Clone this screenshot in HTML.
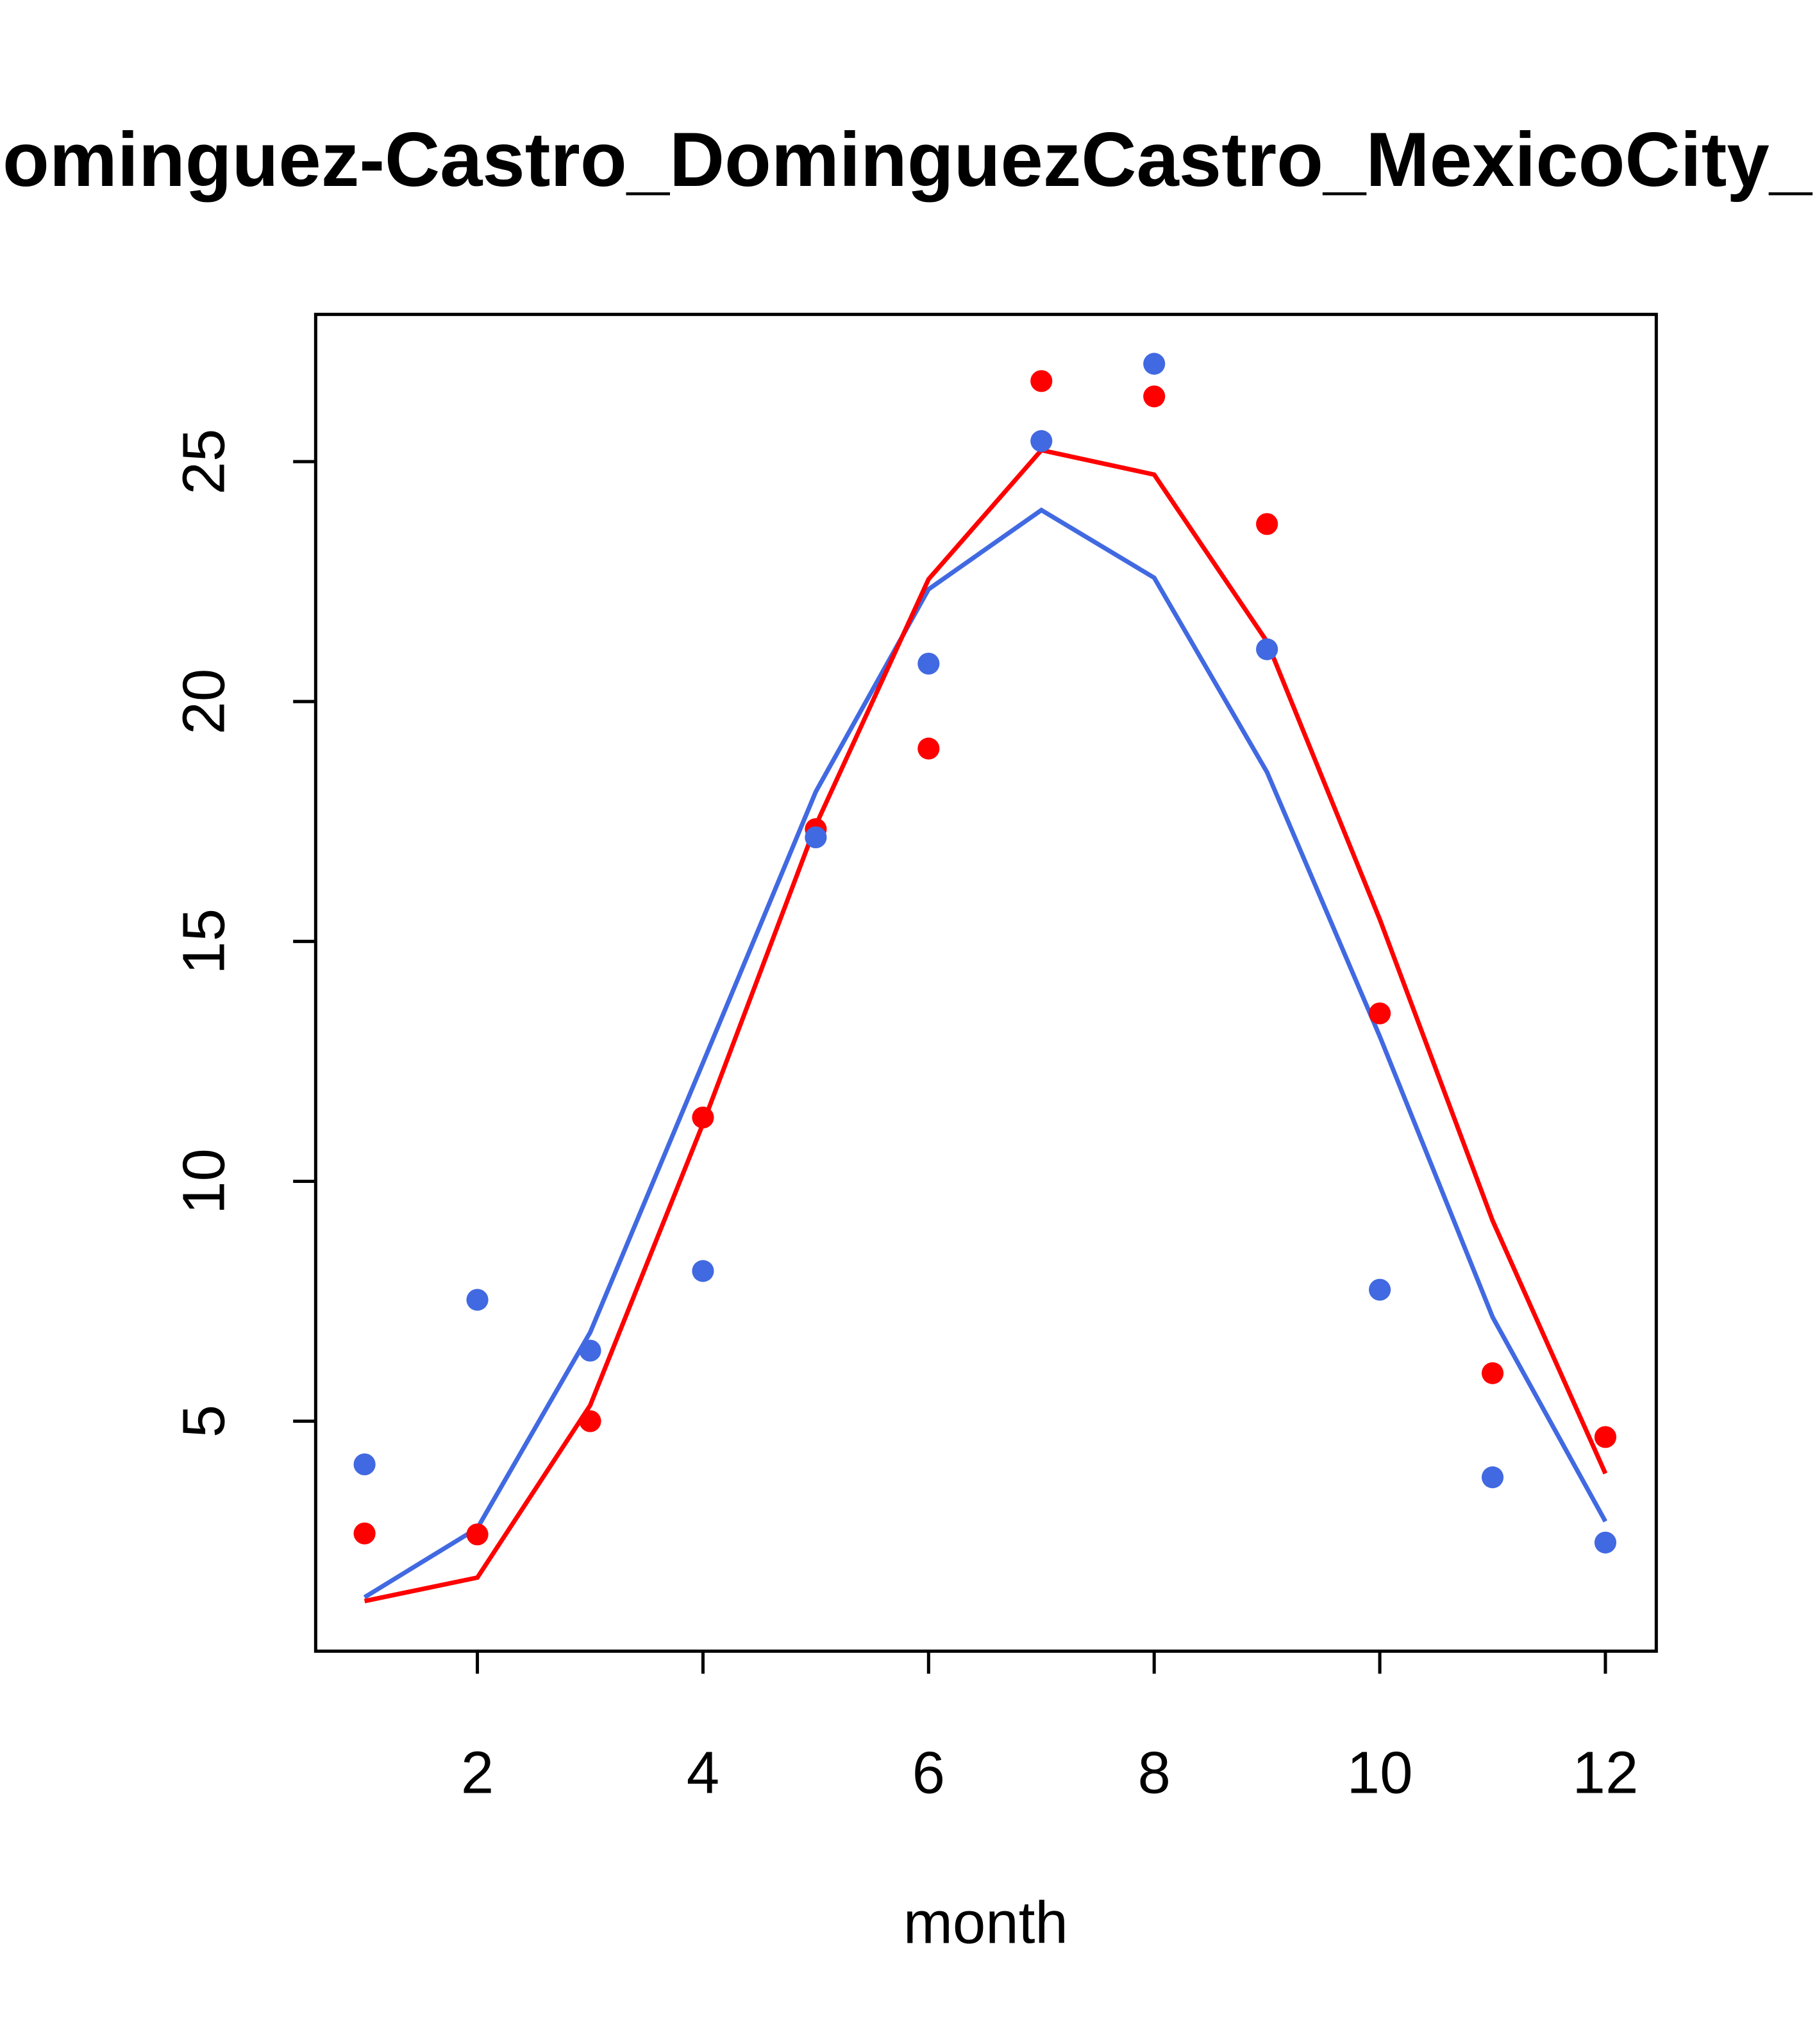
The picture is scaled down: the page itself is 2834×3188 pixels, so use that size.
<!DOCTYPE html>
<html><head><meta charset="utf-8"><style>
html,body{margin:0;padding:0;background:#fff;}
svg{display:block;font-family:"Liberation Sans",sans-serif;}
</style></head><body>
<svg id="chart" width="2834" height="3188" viewBox="0 0 2834 3188">
<rect width="2834" height="3188" fill="#fff"/>
<text x="4" y="290" font-size="120" font-weight="bold" textLength="2822" lengthAdjust="spacingAndGlyphs">ominguez-Castro_DominguezCastro_MexicoCity_</text>
<g transform="scale(1.0048)">
<rect x="490" y="488" width="2081" height="2075" fill="none" stroke="#000" stroke-width="5"/>
<g id="xaxis"></g>
<g id="yaxis"></g>
<text x="1530" y="3016" font-size="92" text-anchor="middle">month</text>
<g id="marks"></g>
</g>
</svg>
<script>
const months=[1,2,3,4,5,6,7,8,9,10,11,12];
const redPoints=[2.66,2.64,5.0,11.33,17.34,19.02,26.68,26.36,23.70,13.5,6.0,4.67];
const bluePoints=[4.10,7.53,6.47,8.13,17.17,20.79,25.43,27.04,21.09,7.74,3.83,2.47];
const redLine=[1.25,1.74,5.33,11.2,17.42,22.55,25.24,24.73,21.25,15.46,9.18,3.91];
const blueLine=[1.33,2.77,6.85,12.47,18.12,22.34,23.99,22.58,18.53,13.02,7.17,2.91];
const xTicks=[2,4,6,8,10,12];
const yTicks=[5,10,15,20,25];
const NS="http://www.w3.org/2000/svg";
function xs(m){return 741+(m-2)*(2492-741)/10;}
function ys(v){return 2206-(v-5)*(2206-716.6)/20;}
function mk(t,a,p){const e=document.createElementNS(NS,t);for(const k in a)e.setAttribute(k,a[k]);p.appendChild(e);return e;}
const xa=document.getElementById('xaxis'),ya=document.getElementById('yaxis'),mg=document.getElementById('marks');
xTicks.forEach(t=>{const x=xs(t);
 const l=mk('line',{x1:x,x2:x,y1:2563,y2:2598,stroke:'#000','stroke-width':5},xa);
 
 
 const tx=mk('text',{x:x,y:2783,'font-size':92,'text-anchor':'middle'},xa);tx.textContent=t;
 
 
});
yTicks.forEach(t=>{const y=ys(t);
 const l=mk('line',{x1:455,x2:490,y1:y,y2:y,stroke:'#000','stroke-width':5},ya);
 
 
 const tx=mk('text',{x:0,y:0,'font-size':92,'text-anchor':'middle',transform:`translate(348,${y}) rotate(-90)`},ya);tx.textContent=t;
 
 
});
function line(vals,col,name){
 const p=mk('polyline',{points:months.map((m,i)=>xs(m)+','+ys(vals[i])).join(' '),fill:'none',stroke:col,'stroke-width':7},mg);
 
 
}
function pts(vals,col,name){
 months.forEach((m,i)=>{const c=mk('circle',{cx:xs(m),cy:ys(vals[i]),r:17,fill:col},mg);
  
  
 });
}
line(blueLine,'#4169E1','blue-line');
line(redLine,'#FF0000','red-line');
pts(redPoints,'#FF0000','red-point');
pts(bluePoints,'#4169E1','blue-point');
</script>
</body></html>
